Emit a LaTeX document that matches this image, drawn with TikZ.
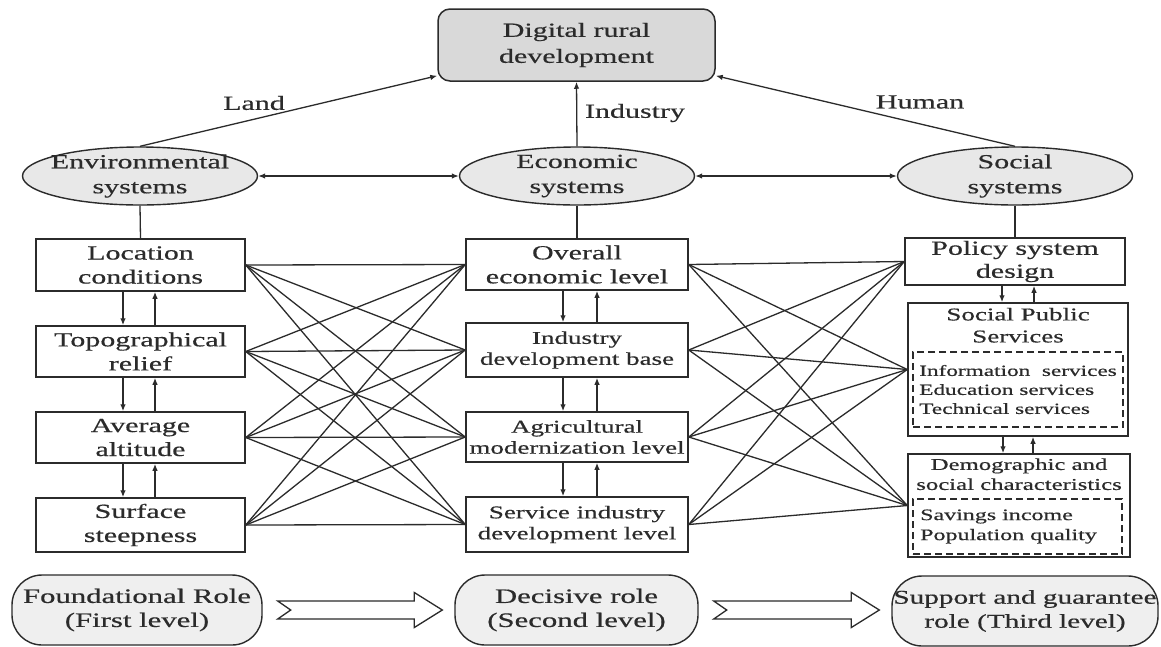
\documentclass[tikz,border=0pt]{standalone}
\usepackage{fontspec}
\setmainfont{Liberation Serif}[FakeStretch=1.5,FakeBold=0.5]
\usetikzlibrary{arrows.meta,shapes.geometric,calc}

\definecolor{ink}{HTML}{2B2B2B}
\definecolor{topfill}{HTML}{D9D9D9}
\definecolor{ellfill}{HTML}{E8E8E8}
\definecolor{rolefill}{HTML}{EFEFEF}

\newcommand\fs[2]{\fontsize{#1}{#2}\selectfont}

% hollow block arrow with notched tail between two role nodes
\newcommand\rolearrow[2]{%
  \draw[hollow] let \p1=(#1.east), \p2=(#2.west) in
    (\x1+15pt,\y1+9pt) -- (\x2-40pt,\y1+9pt) -- (\x2-40pt,\y1+17.5pt)
    -- (\x2-12pt,\y1) -- (\x2-40pt,\y1-17.5pt) -- (\x2-40pt,\y1-9pt)
    -- (\x1+15pt,\y1-9pt) -- (\x1+28pt,\y1) -- cycle;}

\begin{document}
\begin{tikzpicture}[x=1pt,y=-1pt,
  every node/.style={text=ink},
  topbox/.style={draw=ink, fill=topfill, rounded corners=12pt, line width=1.5pt,
    inner sep=0pt, align=center, font=\fs{20}{26}},
  sysell/.style={ellipse, draw=ink, fill=ellfill, line width=1.4pt, inner sep=0pt,
    minimum width=235pt, minimum height=58pt},
  elltext/.style={align=center, inner sep=0pt, font=\fs{20}{25}},
  box/.style={draw=ink, line width=1.5pt, rectangle, inner sep=0pt, align=center,
    font=\fs{20}{24}},
  smallbox/.style={box, font=\fs{18}{21}},
  dashbox/.style={draw=ink, line width=1.3pt, dash pattern=on 7pt off 4pt,
    rectangle, align=left, inner sep=0pt},
  role/.style={draw=ink, fill=rolefill, rounded corners=30pt, line width=1.4pt,
    minimum height=70pt, inner sep=0pt, align=center, font=\fs{20.5}{24}},
  lbl/.style={font=\fs{20}{24}, inner sep=0pt},
  link/.style={draw=ink, line width=1.3pt},
  arr/.style={link, -{Latex[length=7pt,width=5.5pt]}},
  biarr/.style={link, {Latex[length=7pt,width=5.5pt]}-{Latex[length=7pt,width=5.5pt]}},
  hollow/.style={draw=ink, fill=white, line width=1.3pt, line join=miter},
]
\fill[white] (0,0) rectangle (1161,646);
\useasboundingbox (0,0) rectangle (1161,646);

% goal
\node[topbox, minimum width=277pt, minimum height=72pt] (goal) at (576.5,45)
  {Digital rural\\development};

% three subsystems
\node[sysell, label={[elltext]center:{Environmental\\systems}}] (env) at (140,176) {};
\node[sysell, label={[elltext]center:{Economic\\systems}}] (econ) at (577,176) {};
\node[sysell, label={[elltext]center:{Social\\systems}}] (soc) at (1015,176) {};

\draw[arr] (env.north) -- ([yshift=6pt]goal.south west);
\draw[arr] (econ.north) -- (goal.south);
\draw[arr] (soc.north) -- ([yshift=6pt]goal.south east);
\node[lbl] (landL) at (254,103) {Land};
\node[lbl] (indL) at (635,113) {Industry};
\node[lbl] (humL) at (920,102) {Human};

\draw[biarr] (env.east) -- (econ.west);
\draw[biarr] (econ.east) -- (soc.west);

% environmental factors
\node[box, minimum width=209pt, minimum height=52pt] (loc) at (140.5,265) {Location\\conditions};
\node[box, minimum width=209pt, minimum height=51pt] (topo) at (140.5,351.5) {Topographical\\relief};
\node[box, minimum width=209pt, minimum height=51pt] (alt) at (140.5,437.5) {Average\\altitude};
\node[box, minimum width=209pt, minimum height=54pt] (steep) at (140.5,525) {Surface\\steepness};

% economic factors
\node[box, minimum width=222pt, minimum height=51pt] (ovr) at (577,264.5) {Overall\\economic level};
\node[smallbox, minimum width=222pt, minimum height=54pt] (ind) at (577,350) {Industry\\development base};
\node[smallbox, minimum width=222pt, minimum height=50pt] (agr) at (577,437) {Agricultural\\modernization level};
\node[smallbox, minimum width=222pt, minimum height=55pt] (srv) at (577,524.5) {Service industry\\development level};

% social factors
\node[box, font=\fs{20}{23}, minimum width=220pt, minimum height=47pt] (pol) at (1015,261.5) {Policy system\\design};
\node[box, minimum width=220pt, minimum height=133pt] (sps) at (1018,369.5) {};
\node[align=center, inner sep=0pt, font=\fs{18}{22}] (spsT) at ([yshift=-23pt]sps.north) {Social Public\\Services};
\node[dashbox, minimum width=210pt, minimum height=75pt, font=\fs{15.5}{19}] (spsD) at (1018,389.5)
  {Information~ services\\Education services\\Technical services};
\node[box, minimum width=222pt, minimum height=103pt] (dem) at (1019,505.5) {};
\node[align=center, inner sep=0pt, font=\fs{16.5}{20}] (demT) at ([yshift=-21pt]dem.north) {Demographic and\\social characteristics};
\node[dashbox, minimum width=209pt, minimum height=55pt, font=\fs{16}{20}] (demD) at (1017.5,526.5)
  {Savings income\hspace*{18pt}\\Population quality\hspace*{18pt}};

% subsystem to first factor
\draw[link] (env.south) -- (loc.north);
\draw[link] (econ.south) -- (ovr.north);
\draw[link] (soc.south) -- (pol.north);

% full cross links between neighbouring columns
\foreach \a in {loc,topo,alt,steep}{
  \foreach \b in {ovr,ind,agr,srv}{\draw[link] (\a.east) -- (\b.west);}}
\foreach \a in {ovr,ind,agr,srv}{
  \foreach \b in {pol,sps,dem}{\draw[link] (\a.east) -- (\b.west);}}

% two-way links inside each column
\foreach \u/\l in {loc/topo,topo/alt,alt/steep}{
  \draw[arr] (\u.south -| 123,0) -- (\l.north -| 123,0);
  \draw[arr] (\l.north -| 155,0) -- (\u.south -| 155,0);}
\foreach \u/\l in {ovr/ind,ind/agr,agr/srv}{
  \draw[arr] (\u.south -| 563,0) -- (\l.north -| 563,0);
  \draw[arr] (\l.north -| 597,0) -- (\u.south -| 597,0);}
\draw[arr] (pol.south -| 1002,0) -- (sps.north -| 1002,0);
\draw[arr] (sps.north -| 1034,0) -- (pol.south -| 1034,0);
\draw[arr] (sps.south -| 1003,0) -- (dem.north -| 1003,0);
\draw[arr] (dem.north -| 1033,0) -- (sps.south -| 1033,0);

% roles
\node[role, minimum width=250pt] (r1) at (137,610) {Foundational Role\\(First level)};
\node[role, minimum width=243pt] (r2) at (576.5,610) {Decisive role\\(Second level)};
\node[role, minimum width=266pt, font=\fs{19.5}{24}] (r3) at (1025,611) {Support and guarantee\\role (Third level)};
\rolearrow{r1}{r2}
\rolearrow{r2}{r3}
\end{tikzpicture}
\end{document}
